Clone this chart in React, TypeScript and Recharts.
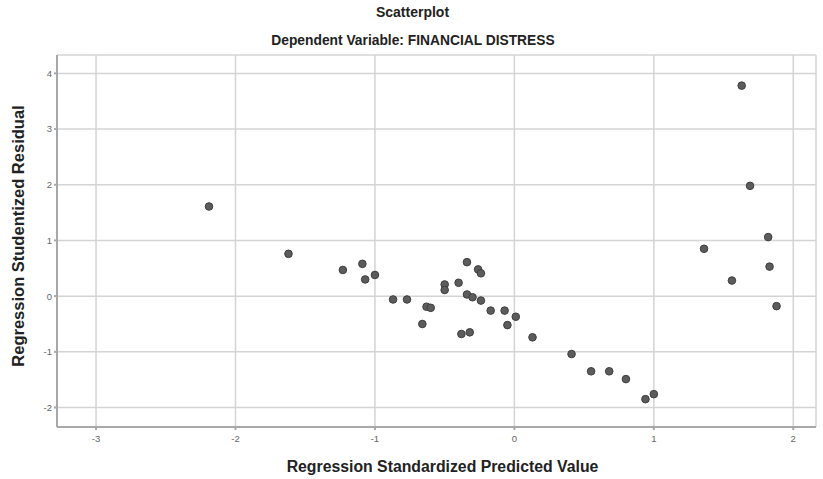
import { ScatterChart, Scatter, XAxis, YAxis, CartesianGrid, Label } from "recharts";

// regression standardized predicted value (x) vs studentized residual (y)
const predicted = [
  -2.19, -1.62, -1.23, -1.09, -1.07, -1.0, -0.87, -0.77, -0.66, -0.63,
  -0.6, -0.5, -0.5, -0.4, -0.34, -0.34, -0.3, -0.26, -0.24, -0.24,
  -0.38, -0.32, -0.17, -0.07, -0.05, 0.01, 0.13, 0.41, 0.55, 0.68,
  0.8, 0.94, 1.0, 1.36, 1.56, 1.63, 1.69, 1.82, 1.83, 1.88,
];
const residual = [
  1.61, 0.76, 0.47, 0.58, 0.3, 0.38, -0.06, -0.06, -0.5, -0.19,
  -0.21, 0.21, 0.11, 0.24, 0.61, 0.03, -0.02, 0.48, 0.41, -0.08,
  -0.68, -0.65, -0.26, -0.26, -0.52, -0.37, -0.74, -1.04, -1.35, -1.35,
  -1.49, -1.85, -1.76, 0.85, 0.28, 3.78, 1.98, 1.06, 0.53, -0.18,
];
const xTicks = [-3, -2, -1, 0, 1, 2];
const yTicks = [-2, -1, 0, 1, 2, 3, 4];

const points = predicted.map((x, i) => ({ x, y: residual[i] }));

const font = "'Liberation Sans', Arial, sans-serif";

export default function App() {
  return (
    <div style={{ position: "absolute", left: 0, top: 0, width: 823, height: 479, background: "#fff", fontFamily: font }}>
      <div style={{ position: "absolute", top: 4, left: 0, width: 825, textAlign: "center", fontSize: 14, fontWeight: "bold", color: "#222" }}>
        Scatterplot
      </div>
      <div style={{ position: "absolute", top: 33, left: 0, width: 826, textAlign: "center", fontSize: 13.8, fontWeight: "bold", color: "#222" }}>
        Dependent Variable: FINANCIAL DISTRESS
      </div>
      <ScatterChart width={823} height={479} margin={{ top: 55, right: 7, bottom: 32, left: 27 }}>
        <CartesianGrid stroke="#d4d4d4" strokeWidth={1.5} />
        <XAxis
          type="number"
          dataKey="x"
          domain={[-3.28, 2.163]}
          ticks={xTicks}
          height={20}
          allowDataOverflow
          stroke="#a8a8a8"
          strokeWidth={2}
          tickSize={3}
          tick={{ fontSize: 9.5, fill: "#666", fontFamily: font, dy: 3 }}
        >
          <Label
            value="Regression Standardized Predicted Value"
            position="bottom"
            offset={14}
            dx={6}
            style={{ fontSize: 15.8, fontWeight: "bold", fill: "#222", fontFamily: font }}
          />
        </XAxis>
        <YAxis
          type="number"
          dataKey="y"
          domain={[-2.35, 4.33]}
          ticks={yTicks}
          width={30}
          allowDataOverflow
          stroke="#a8a8a8"
          strokeWidth={2}
          tickSize={3}
          tick={{ fontSize: 9.5, fill: "#666", fontFamily: font }}
        >
          <Label
            value="Regression Studentized Residual"
            angle={-90}
            position="insideLeft"
            offset={-9}
            dy={-5}
            style={{ textAnchor: "middle", fontSize: 16.5, fontWeight: "bold", fill: "#222", fontFamily: font }}
          />
        </YAxis>
        <Scatter data={points} fill="#5c5c5c" stroke="#3e3e3e" strokeWidth={1} isAnimationActive={false}
          shape={(p: any) => <circle cx={p.cx} cy={p.cy} r={3.8} fill="#5c5c5c" stroke="#3e3e3e" strokeWidth={1} />}
        />
      </ScatterChart>
    </div>
  );
}
